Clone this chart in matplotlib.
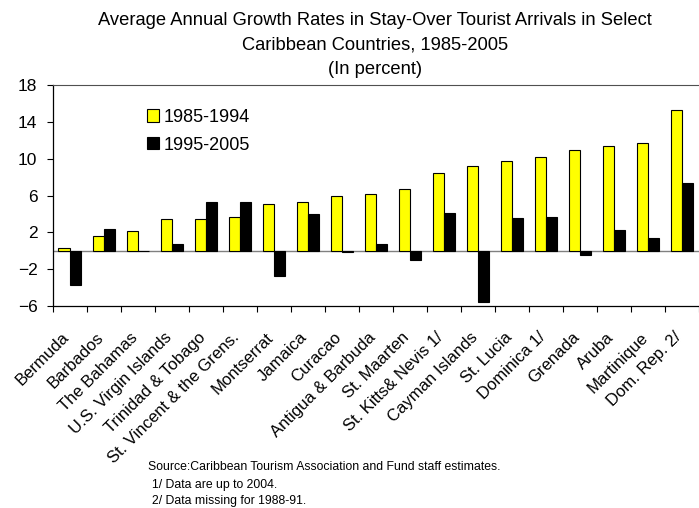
import numpy as np
import matplotlib.pyplot as plt
from matplotlib.transforms import ScaledTranslation

plt.rcParams["font.family"] = ["Liberation Sans", "DejaVu Sans"]

countries = ["Bermuda", "Barbados", "The Bahamas", "U.S. Virgin Islands",
             "Trinidad & Tobago", "St. Vincent & the Grens.", "Montserrat",
             "Jamaica", "Curacao", "Antigua & Barbuda", "St. Maarten",
             "St. Kitts& Nevis 1/", "Cayman Islands", "St. Lucia",
             "Dominica 1/", "Grenada", "Aruba", "Martinique", "Dom. Rep. 2/"]
g_1985_1994 = [0.25, 1.6, 2.1, 3.4, 3.4, 3.7, 5.1, 5.3, 5.9, 6.2, 6.75,
               8.4, 9.25, 9.8, 10.15, 10.95, 11.4, 11.7, 15.25]
g_1995_2005 = [-3.7, 2.4, 0.0, 0.7, 5.3, 5.3, -2.75, 3.95, -0.1, 0.7, -1.05,
               4.15, -5.55, 3.55, 3.65, -0.45, 2.25, 1.35, 7.35]
yticks = [-6, -2, 2, 6, 10, 14, 18]

fig = plt.figure(figsize=(6.99, 5.08), dpi=100)
ax = fig.add_axes([0.0754, 0.3976, 0.9246, 0.4351])

x = np.arange(len(countries))
w = 0.33
ax.bar(x - w / 2, g_1985_1994, w, color="#ffff00", edgecolor="black",
       linewidth=0.8, label="1985-1994", zorder=3)
ax.bar(x + w / 2, g_1995_2005, w, color="black", edgecolor="black",
       linewidth=0.8, label="1995-2005", zorder=3)
ax.axhline(0, color="#808080", linewidth=1, zorder=2)

ax.set_xlim(-0.5, len(countries) - 0.5)
ax.set_ylim(-6, 18)
ax.set_yticks(yticks)
ax.tick_params(axis="y", labelsize=12.5, length=4, width=0.8, pad=7)

ax.set_xticks(np.arange(len(countries) + 1) - 0.5)
ax.set_xticklabels([])
ax.tick_params(axis="x", length=4, width=0.8)
ax.set_xticks(x, minor=True)
ax.set_xticklabels(countries, minor=True, rotation=45, ha="right",
                   rotation_mode="anchor", fontsize=12)
ax.tick_params(axis="x", which="minor", length=0, pad=4)
shift = ScaledTranslation(-0.08, -0.18, fig.dpi_scale_trans)
for lab in ax.get_xticklabels(minor=True):
    lab.set_transform(lab.get_transform() + shift)

ax.spines["right"].set_visible(False)
ax.spines["top"].set_color("#505050")
ax.spines["left"].set_linewidth(0.9)
ax.spines["bottom"].set_linewidth(0.9)

ax.legend(loc="upper left", bbox_to_anchor=(0.134, 0.925), frameon=False,
          fontsize=13, handlelength=0.67, handleheight=0.67, handletextpad=0.3,
          labelspacing=0.6, borderaxespad=0)

fig.text(0.5365, 0.9508, "Average Annual Growth Rates in Stay-Over Tourist Arrivals in Select",
         ha="center", va="baseline", fontsize=13.2)
fig.text(0.5365, 0.9026, "Caribbean Countries, 1985-2005", ha="center", va="baseline",
         fontsize=13.2)
fig.text(0.5365, 0.8543, "(In percent)", ha="center", va="baseline", fontsize=13.2)

fig.text(0.212, 0.081, "Source:Caribbean Tourism Association and Fund staff estimates.",
         ha="left", va="center", fontsize=8.8)
fig.text(0.218, 0.045, "1/ Data are up to 2004.", ha="left", va="center", fontsize=8.8)
fig.text(0.218, 0.013, "2/ Data missing for 1988-91.", ha="left", va="center", fontsize=8.8)

fig.savefig("out.png", dpi=100)
